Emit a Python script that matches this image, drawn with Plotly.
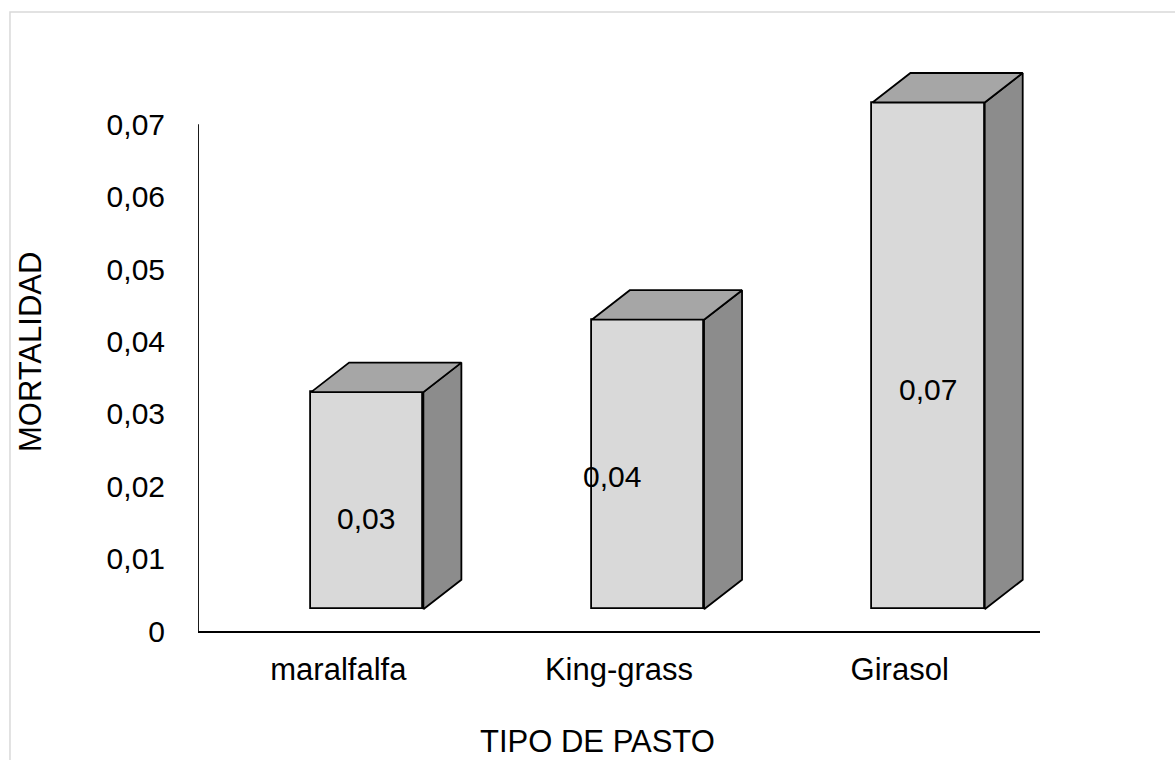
import plotly.graph_objects as go

# Mortality by pasture type
categorias = ["maralfalfa", "King-grass", "Girasol"]
mortalidad = [0.03, 0.04, 0.07]
etiquetas = ["0,03", "0,04", "0,07"]

y_ticks = [0, 0.01, 0.02, 0.03, 0.04, 0.05, 0.06, 0.07]
y_ticktext = ["0", "0,01", "0,02", "0,03", "0,04", "0,05", "0,06", "0,07"]

# 3D column geometry (axis units)
BAR_W = 0.4
FRONT_DX = 0.103     # front face shift along x
FRONT_BASE = 0.003   # front face lift along y
DEPTH_DX = 0.1354
DEPTH_DY = 0.004075

# value label placement (x shift from category, y in axis units)
label_dx = [0.10, -0.025, 0.10]
label_y = [0.0155, 0.0214, 0.0334]

FRONT_C = "#d9d9d9"
TOP_C = "#a6a6a6"
SIDE_C = "#8c8c8c"
EDGE = dict(color="black", width=1.8)
FONT = "Liberation Sans, Arial, sans-serif"

fig = go.Figure()

for i, v in enumerate(mortalidad):
    xc = i + FRONT_DX
    x0, x1 = xc - BAR_W / 2, xc + BAR_W / 2
    b, t = FRONT_BASE, FRONT_BASE + v
    # right side face
    fig.add_trace(go.Scatter(
        x=[x1, x1, x1 + DEPTH_DX, x1 + DEPTH_DX, x1],
        y=[b, t, t + DEPTH_DY, b + DEPTH_DY, b],
        fill="toself", fillcolor=SIDE_C, mode="lines", line=EDGE,
        hoverinfo="skip", showlegend=False))
    # top face
    fig.add_trace(go.Scatter(
        x=[x0, x1, x1 + DEPTH_DX, x0 + DEPTH_DX, x0],
        y=[t, t, t + DEPTH_DY, t + DEPTH_DY, t],
        fill="toself", fillcolor=TOP_C, mode="lines", line=EDGE,
        hoverinfo="skip", showlegend=False))

# front faces
fig.add_trace(go.Bar(
    x=[i + FRONT_DX for i in range(len(mortalidad))],
    y=mortalidad, base=FRONT_BASE, width=BAR_W,
    marker=dict(color=FRONT_C, line=EDGE),
    showlegend=False, hoverinfo="skip"))

for i, v in enumerate(mortalidad):
    fig.add_annotation(x=i + label_dx[i], y=label_y[i], text=etiquetas[i],
                       showarrow=False, xref="x", yref="y",
                       xanchor="center", yanchor="middle",
                       font=dict(size=30, color="black", family=FONT))

# axis titles
fig.add_annotation(x=0.474, y=-0.194, xref="paper", yref="paper",
                   text="TIPO DE PASTO", showarrow=False,
                   xanchor="center", yanchor="middle",
                   font=dict(size=31, color="black", family=FONT))
fig.add_annotation(x=-0.1995, y=0.4886, xref="paper", yref="paper",
                   text="MORTALIDAD", showarrow=False, textangle=-90,
                   xanchor="center", yanchor="middle",
                   font=dict(size=31, color="black", family=FONT))

# vertical axis line up to the last tick
fig.add_shape(type="line", xref="x", yref="y", x0=-0.5, x1=-0.5,
              y0=0, y1=y_ticks[-1], line=EDGE)

# chart area border
fig.add_shape(type="rect", xref="paper", yref="paper",
              x0=-0.2233, x1=1.3, y0=-0.35, y1=1.0841,
              line=dict(color="#d9d9d9", width=1.5), layer="below")

fig.update_layout(
    width=1175, height=760,
    margin=dict(l=198, r=135, t=60, b=129),
    paper_bgcolor="white", plot_bgcolor="white",
    bargap=0,
    font=dict(family=FONT, size=30, color="black"),
    xaxis=dict(range=[-0.5, 2.5], tickmode="array",
               tickvals=list(range(len(categorias))), ticktext=categorias,
               tickfont=dict(size=31),
               showgrid=False, zeroline=False, showline=True,
               linecolor="black", linewidth=1.8, ticks="",
               ticklabelstandoff=10, fixedrange=True),
    yaxis=dict(range=[0, 0.07887], tickmode="array",
               tickvals=y_ticks, ticktext=y_ticktext,
               tickfont=dict(size=30),
               showgrid=False, zeroline=False, showline=False, ticks="",
               ticklabelstandoff=32, fixedrange=True),
)

fig.write_html("out.html")
